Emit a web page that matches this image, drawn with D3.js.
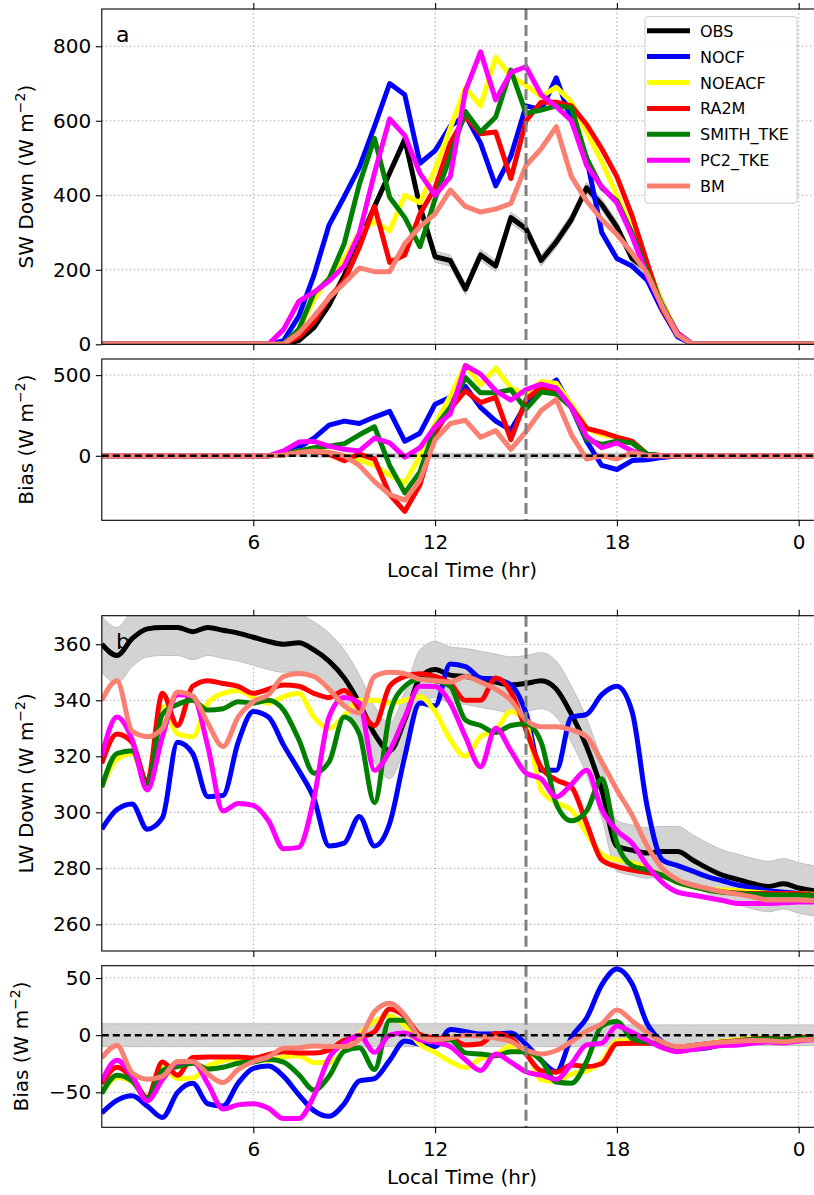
<!DOCTYPE html>
<html>
<head>
<meta charset="utf-8">
<script src="https://cdnjs.cloudflare.com/ajax/libs/d3/7.8.5/d3.min.js"></script>
<style>
  body { margin: 0; background: #fff; }
  text { font-family: "DejaVu Sans", sans-serif; fill: #000; }
  .grid line { stroke: #a8a8a8; stroke-width: 1; stroke-dasharray: 1.5,2.5; }
</style>
</head>
<body>
<svg id="chart" width="814" height="1195"></svg>
<script>
// time axis (local hour)
var hours = [1,1.5,2,2.5,3,3.5,4,4.5,5,5.5,6,6.5,7,7.5,8,8.5,9,9.5,10,10.5,11,11.5,12,12.5,13,13.5,14,14.5,15,15.5,16,16.5,17,17.5,18,18.5,19,19.5,20,20.5,21,21.5,22,22.5,23,23.5,24,24.5,25];

var seriesNames = ["OBS", "NOCF", "NOEACF", "RA2M", "SMITH_TKE", "PC2_TKE", "BM"];
var xTickValues = [6, 12, 18, 24];
var swTicks = [0, 200, 400, 600, 800];
var swBiasTicks = [0, 500];
var lwTicks = [260, 280, 300, 320, 340, 360];
var lwBiasTicks = [-50, 0, 50];

// ---- SW down (W m-2)
var swObs    = [0,0,0,0,0,0,0,0,0,0,0,0, 0,10,45,105,185,275,370,460,550,370,235,225,148,240,210,340,310,225,275,335,420,375,315,230,200,110,25,0, 0,0,0,0,0,0,0,0,0];
var swObsErr = [0,0,0,0,0,0,0,0,0,0,0,0, 0,5,8,10,10,12,12,12,15,15,15,15,15,15,15,15,15,15,15,15,15,15,15,12,10,8,5,0, 0,0,0,0,0,0,0,0,0];
var swNOCF   = [0,0,0,0,0,0,0,0,0,0,0,0, 10,75,185,320,396,475,585,700,670,486,520,585,615,540,425,505,640,630,715,600,500,300,230,210,172,90,20,0, 0,0,0,0,0,0,0,0,0];
var swNOEACF = [0,0,0,0,0,0,0,0,0,0,0,0, 0,40,120,180,230,300,330,305,400,380,470,580,690,640,770,720,695,665,690,650,570,490,400,310,210,110,30,0, 0,0,0,0,0,0,0,0,0];
var swRA2M   = [0,0,0,0,0,0,0,0,0,0,0,0, 0,20,60,125,170,260,370,220,240,350,420,540,612,565,570,445,600,650,650,640,590,525,450,345,218,95,25,0, 0,0,0,0,0,0,0,0,0];
var swSMITH  = [0,0,0,0,0,0,0,0,0,0,0,0, 0,40,137,175,270,430,553,395,340,262,390,504,625,570,610,736,620,629,640,635,500,420,385,298,195,105,30,0, 0,0,0,0,0,0,0,0,0];
var swPC2    = [0,0,0,0,0,0,0,0,0,0,0,0, 40,115,140,170,210,298,460,605,560,459,400,450,680,785,656,730,745,670,638,600,480,423,380,290,185,100,30,0, 0,0,0,0,0,0,0,0,0];
var swBM     = [0,0,0,0,0,0,0,0,0,0,0,0, 0,30,75,125,164,205,195,195,270,316,350,414,370,355,363,378,480,525,584,450,385,335,295,245,190,100,25,0, 0,0,0,0,0,0,0,0,0];

// ---- SW bias (model - obs)
var swbNOCF   = [0,0,0,0,0,0,0,0,0,0,0,0, 10,50,110,190,215,200,240,275,90,140,320,362,430,300,215,160,320,405,470,300,90,-60,-85,-30,-25,-10,0,0, 0,0,0,0,0,0,0,0,0];
var swbNOEACF = [0,0,0,0,0,0,0,0,0,0,0,0, 5,30,40,20,0,-25,-60,-120,-170,0,198,370,560,440,545,420,380,460,450,320,170,130,115,85,10,0,0,0, 0,0,0,0,0,0,0,0,0];
var swbRA2M   = [0,0,0,0,0,0,0,0,0,0,0,0, 5,25,30,10,-30,10,-20,-240,-345,-180,140,290,403,330,362,100,350,424,410,300,170,146,115,90,10,0,0,0, 0,0,0,0,0,0,0,0,0];
var swbSMITH  = [0,0,0,0,0,0,0,0,0,0,0,0, 5,30,50,60,74,130,180,-60,-230,-100,177,300,485,390,390,410,290,395,383,300,100,70,90,80,10,0,0,0, 0,0,0,0,0,0,0,0,0];
var swbPC2    = [0,0,0,0,0,0,0,0,0,0,0,0, 30,85,90,60,40,30,110,80,-8,50,180,260,560,506,403,345,410,444,420,300,120,50,80,30,0,0,0,0, 0,0,0,0,0,0,0,0,0];
var swbBM     = [0,0,0,0,0,0,0,0,0,0,0,0, 5,20,30,20,0,-60,-160,-240,-275,-150,100,200,220,115,156,40,150,280,350,130,-20,0,-20,20,0,0,0,0, 0,0,0,0,0,0,0,0,0];

// ---- LW down (W m-2)
var lwObs    = [360,356,362,365.5,366,366,364.5,366,365,364, 362.5,361,360,360.5,358,354,348,339,328,322, 333,348,351,349,348.5,347.5,346.5,345.5,346,347, 344,335,323.5,308,288,286.5,285.5,286,286,283, 280,277.5,276,274.5,273.5,274.5,273,272,271.5];
var lwObsErr = [10,10,10,10,10,10,10,10,10,10, 10,10,10,10,10,10,10,10,10,10, 10,10,10,10,10,10,10,10,10,10, 10,10,10,10,9,9,9,9,9,9, 9,9,9,9,9,9,9,9,9];
var lwNOCF   = [294,301,303,294,298,325,321,305.6,306,325, 336,334,324,315,305,288,289,298.5,288,296, 320,339,338,353,352,348,347.5,345.5,335.5,315, 315,334,335,342,345,336,302,283,281,279, 277,275.5,274,273,272,271.5,271,270.5,270];
var lwNOEACF = [309,319,321,310.5,337.7,328,327,339,342.5,343.5, 341,339,341.3,342.5,334,330,334.5,340,340,339, 340,341.3,336,326,320,327,329.5,336,331.8,308, 303.5,300.8,292.5,285,283,282,280,277.5,275,273.5, 272.5,272.3,272,271.6,271.1,271,271,270.8,270.6];
var lwRA2M   = [317.5,328,325,311,342.5,331,345,347,346,345, 342.5,344,345.5,345,342.5,341,343.5,337,331,345, 348.5,349.5,348.5,346,340,340,348,343,329.4,316, 311.6,309,296,283,280.6,279.4,278.5,277.5,275.5,274, 272.5,271.6,271.2,271,271,271,271,270.5,270.5];
var lwSMITH  = [309,321,322,310,335,338.5,340,336.5,337,339.5, 339,340,336.5,326,314,318,334,328,303.5,335, 345,347.5,347,345,333,331,328.5,331,331.5,325, 303,297,300.5,312,289,281,279.5,277.5,275,273.5, 272.3,271.5,271,270.8,270.6,270.5,270.5,270.3,270.2];
var lwPC2    = [320,334,326,308,327,342,341.5,323.5,300.5,303.2, 302.5,297,287,287.5,305,334,341,339,315,322, 334,345,344.9,339,327,316.3,330,322,314,312, 305.5,310,315,301,293.5,289,281,275,271.5,270.5, 269.5,268.5,267.5,267.5,267.5,267.7,268,268,268];
var lwBM     = [340,347,329,327,330,343,341.5,331.8,323.5,334, 339.5,342,348.5,349.6,348.5,344,338,335.5,348.5,350, 349.5,347.5,347,346.5,348.5,346.5,344,340,333,330.6, 330.6,329.4,327,318,308,299,288,280,276,274, 272.8,271.6,270.8,269.8,268.7,268.7,268.7,268.5,268.5];

// ---- LW bias (model - obs)
var lwbNOCF   = [-68,-57,-53,-62,-72,-50,-42,-60,-62,-42, -29,-27,-36,-52,-66,-71,-60,-40,-38,-22, -5,-8,-10,5,3,1,1,2,-8,-22, -32,-2,15,44,58,45,10,-6,-12,-12, -11,-8,-6,-5,-4,-3.5,-3,-2.5,-2];
var lwbNOEACF = [-51,-37,-41,-55,-28,-38,-37.5,-27,-22.5,-20.5, -21.5,-22,-19,-18,-24,-24,-13.5,1,12,17, 8,-8,-15,-23,-28.5,-20.5,-17,-9.5,-14,-39, -40.5,-34,-31,-23,-5,-4.5,-5.5,-8.5,-11,-9.5, -7.5,-5,-4,-3,-2.5,-3.5,-2,-1.2,-1];
var lwbRA2M   = [-42.5,-28,-37,-54.5,-23.5,-35,-19.5,-19,-19,-19, -20,-17,-14.5,-15.5,-15.5,-13,-4.5,-2,3,23, 16.5,0.5,-2.5,-3,-8.5,-7.5,1.5,-2.5,-16.6,-31, -32.4,-26,-27.5,-25,-7.4,-7,-7,-8.5,-10.5,-9, -7.5,-6,-4.8,-3.5,-2.5,-3.5,-2,-1.5,-1];
var lwbSMITH  = [-51,-35,-40,-55.5,-31,-27.5,-24.5,-29.5,-28,-24.5, -23.5,-21,-23.5,-34.5,-48,-36,-14,-11,-30,13, 13,-1.5,-4,-4,-15.5,-16.5,-18,-14.5,-14.5,-22, -41,-42,-23,8,12,-3,-6,-8.5,-11,-9.5, -7.7,-6,-5,-3.7,-2.9,-4,-2.5,-1.7,-1.3];
var lwbPC2    = [-40,-22,-36,-57.5,-39,-24,-23,-42.5,-64.5,-61, -60,-64,-73,-73,-53,-20,-7,0,-15,0, 2,-4,-6,-10,-21.5,-31,-16.5,-23.5,-32,-35, -38.5,-25,-8.5,-7,8,2.5,-4.5,-11,-14.5,-12.5, -10.5,-9,-8.5,-7,-6,-6.8,-5,-4,-3.5];
var lwbBM     = [-20,-9,-33,-38.5,-36,-23,-23,-34,-41.5,-30, -23,-19,-11.5,-11,-9.5,-10,-10,-3.5,20.5,28, 17.5,-1.5,-4,-2.5,0,-1,-2.5,-5.5,-13,-16.4, -13.4,-5.6,3.5,10,22,12.5,2.5,-6,-10,-9, -7.2,-6,-5.2,-4.7,-4.8,-5.8,-4.3,-3.5,-3];

var colors = ["#000000", "#0000ff", "#ffff00", "#ff0000", "#008000", "#ff00ff", "#fa8072"];

var svg = d3.select("#chart");
var x = d3.scaleLinear().domain([1, 25]).range([101.8, 829]);

var panels = [{
    id: "swMain", top: 9, bottom: 344.3, domain: [0, 900], ticks: swTicks,
    label: "SW Down", labelX: 33, letter: "a", curve: d3.curveLinear,
    series: [swObs, swNOCF, swNOEACF, swRA2M, swSMITH, swPC2, swBM],
    center: swObs, err: swObsErr, bias: false, xLabels: false
},{
    id: "swBias", top: 359, bottom: 520.3, domain: [-400, 600], ticks: swBiasTicks,
    label: "Bias", labelX: 33, curve: d3.curveLinear,
    series: [null, swbNOCF, swbNOEACF, swbRA2M, swbSMITH, swbPC2, swbBM],
    center: null, err: swObsErr, bias: true, xLabels: true
},{
    id: "lwMain", top: 615.7, bottom: 951, domain: [250.5, 370.2], ticks: lwTicks,
    label: "LW Down", labelX: 33, letter: "b", curve: d3.curveMonotoneX,
    series: [lwObs, lwNOCF, lwNOEACF, lwRA2M, lwSMITH, lwPC2, lwBM],
    center: lwObs, err: lwObsErr, bias: false, xLabels: false
},{
    id: "lwBias", top: 965.7, bottom: 1127.3, domain: [-80.6, 60.8], ticks: lwBiasTicks,
    label: "Bias", labelX: 28, curve: d3.curveMonotoneX,
    series: [null, lwbNOCF, lwbNOEACF, lwbRA2M, lwbSMITH, lwbPC2, lwbBM],
    center: null, err: lwObsErr, bias: true, xLabels: true
}];

panels.forEach(drawPanel);
drawLegend();

function drawPanel(p) {
    var y = d3.scaleLinear().domain(p.domain).range([p.bottom, p.top]);
    var x0 = x.range()[0], x1 = x.range()[1];

    svg.append("clipPath").attr("id", "clip-" + p.id)
      .append("rect")
        .attr("x", x0).attr("y", p.top)
        .attr("width", x1 - x0).attr("height", p.bottom - p.top);

    var grp = svg.append("g");
    var plot = grp.append("g").attr("clip-path", "url(#clip-" + p.id + ")");

    // dotted grid
    var grid = plot.append("g").attr("class", "grid");
    grid.selectAll(".gx").data(xTickValues).enter().append("line")
        .attr("x1", function(d) { return x(d); }).attr("x2", function(d) { return x(d); })
        .attr("y1", p.top).attr("y2", p.bottom);
    grid.selectAll(".gy").data(p.ticks).enter().append("line")
        .attr("x1", x0).attr("x2", x1)
        .attr("y1", function(d) { return y(d); }).attr("y2", function(d) { return y(d); });

    // obs uncertainty band
    var band = d3.area()
        .curve(p.curve)
        .x(function(d, i) { return x(hours[i]); })
        .y0(function(d, i) { return y((p.center ? p.center[i] : 0) - p.err[i]); })
        .y1(function(d, i) { return y((p.center ? p.center[i] : 0) + p.err[i]); });
    plot.append("path")
        .datum(hours)
        .attr("d", band)
        .attr("fill", "#d3d3d3")
        .attr("stroke", "#c0c0c0")
        .attr("stroke-width", 1);

    var line = d3.line()
        .curve(p.curve)
        .x(function(d, i) { return x(hours[i]); })
        .y(function(d) { return y(d); });

    p.series.forEach(function(s, k) {
        if (!s) return;
        plot.append("path")
            .datum(s)
            .attr("d", line)
            .attr("fill", "none")
            .attr("stroke", colors[k])
            .attr("stroke-width", 5)
            .attr("stroke-linejoin", "round");
    });

    if (p.bias) {
        plot.append("line")
            .attr("x1", x0).attr("x2", x1)
            .attr("y1", y(0)).attr("y2", y(0))
            .attr("stroke", "#000").attr("stroke-width", 2.5)
            .attr("stroke-dasharray", "7,4");
    }

    // vertical marker at 15 h
    plot.append("line")
        .attr("x1", x(15)).attr("x2", x(15))
        .attr("y1", p.top).attr("y2", p.bottom)
        .attr("stroke", "#808080").attr("stroke-width", 3)
        .attr("stroke-dasharray", "11,5");

    // spines
    grp.append("rect")
        .attr("x", x0).attr("y", p.top)
        .attr("width", x1 - x0).attr("height", p.bottom - p.top)
        .attr("fill", "none").attr("stroke", "#000").attr("stroke-width", 1.1);

    // axes
    var yAxis = grp.append("g")
        .attr("transform", "translate(" + x0 + ",0)")
        .call(d3.axisLeft(y).tickValues(p.ticks).tickSize(6).tickSizeOuter(0).tickPadding(4.5));
    styleAxis(yAxis);

    var xAxis = grp.append("g")
        .attr("transform", "translate(0," + p.bottom + ")")
        .call(d3.axisBottom(x).tickValues(xTickValues).tickSize(6).tickSizeOuter(0).tickPadding(8.4)
            .tickFormat(function(d) { return p.xLabels ? String(d % 24) : ""; }));
    styleAxis(xAxis);

    if (!p.bias) {
        var topAxis = grp.append("g")
            .attr("transform", "translate(0," + p.top + ")")
            .call(d3.axisTop(x).tickValues(xTickValues).tickSize(6).tickSizeOuter(0).tickFormat(""));
        styleAxis(topAxis);
    }

    // y label with superscript
    var cy = (p.top + p.bottom) / 2;
    var lab = grp.append("text")
        .attr("transform", "translate(" + p.labelX + "," + cy + ") rotate(-90)")
        .attr("text-anchor", "middle")
        .attr("font-size", 20);
    lab.append("tspan").text(p.label + " (W m");
    lab.append("tspan").attr("dy", -8).attr("font-size", 14).text("\u22122");
    lab.append("tspan").attr("dy", 8).text(")");

    if (p.xLabels) {
        grp.append("text")
            .attr("x", 462).attr("y", p.bottom + 56.7)
            .attr("text-anchor", "middle")
            .attr("font-size", 20)
            .text("Local Time (hr)");
    }

    if (p.letter) {
        grp.append("text")
            .attr("x", 116).attr("y", p.top + 33)
            .attr("font-size", 22)
            .text(p.letter);
    }
}

function styleAxis(g) {
    g.select(".domain").remove();
    g.selectAll(".tick line").attr("stroke", "#000").attr("stroke-width", 1.1);
    g.selectAll(".tick text")
        .attr("font-size", 20)
        .attr("font-family", "DejaVu Sans, sans-serif")
        .attr("fill", "#000");
}

function drawLegend() {
    var lg = svg.append("g");
    lg.append("rect")
        .attr("x", 645).attr("y", 16.7)
        .attr("width", 152).attr("height", 186.5)
        .attr("rx", 3)
        .attr("fill", "#fff").attr("fill-opacity", 0.85)
        .attr("stroke", "#cccccc").attr("stroke-width", 1);

    var item = lg.selectAll(".item")
        .data(seriesNames)
      .enter().append("g")
        .attr("class", "item")
        .attr("transform", function(d, i) { return "translate(0," + (30.7 + i * 25.9) + ")"; });
    item.append("line")
        .attr("x1", 647).attr("x2", 690)
        .attr("stroke", function(d, i) { return colors[i]; })
        .attr("stroke-width", 5);
    item.append("text")
        .attr("x", 700).attr("y", 6)
        .attr("font-size", 16)
        .text(function(d) { return d; });
}
</script>
</body>
</html>
